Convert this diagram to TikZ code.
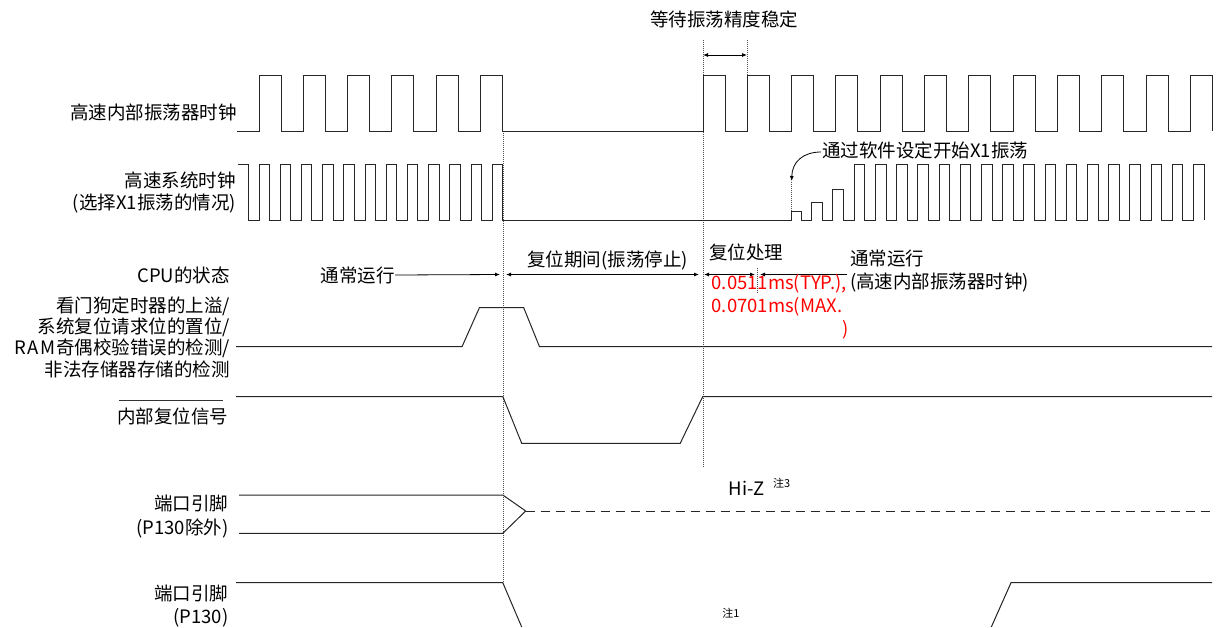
\documentclass[tikz,border=0pt]{standalone}
\usepackage{fontspec}
\setmainfont{Noto Sans CJK SC}
\usetikzlibrary{arrows.meta}
\begin{document}
\begin{tikzpicture}[x=1pt,y=-1pt,
  sig/.style={line width=1pt, draw=black!85, line join=miter},
  vdot/.style={line width=0.6pt, draw=black!70, dash pattern=on 1pt off 1pt},
  dimarr/.style={line width=0.8pt, {Latex[length=5pt,width=4pt]}-{Latex[length=5pt,width=4pt]}},
  onearr/.style={line width=0.8pt, -{Latex[length=5pt,width=4pt]}},
  lbl/.style={inner sep=0pt, font=\fontsize{18.5}{21.5}\selectfont},
  redtxt/.style={inner sep=0pt, text=red, font=\fontsize{18.5}{23}\selectfont},
  small/.style={inner sep=0pt, font=\fontsize{11}{13}\selectfont}
]
\useasboundingbox (0,0) rectangle (1220,627);

% ---------- labels on the left ----------
\node[lbl, anchor=east] (l1) at (237,112) {高速内部振荡器时钟};
\node[lbl, anchor=east, align=right] (l2) at (236,192.5) {高速系统时钟\\(选择X1振荡的情况)};
\node[lbl, anchor=east] (l3) at (230,275) {CPU的状态};
\node[lbl, anchor=east, align=right, font=\fontsize{18.5}{21.3}\selectfont] (l4) at (230,337)
  {看门狗定时器的上溢/\\系统复位请求位的置位/\\R\kern1.5pt A\kern1.5pt M\kern1pt 奇偶校验错误的检测/\\非法存储器存储的检测};
\node[lbl, anchor=east] (l5) at (228.5,416.7) {内部复位信号};
\draw[line width=0.8pt, black!80] (119,400.7) -- (223,400.7);
\node[lbl, anchor=east, align=right, font=\fontsize{18.5}{24}\selectfont] (l6) at (228.5,517) {端口引脚\\(P130除外)};
\node[lbl, anchor=east, align=right, font=\fontsize{18.5}{23}\selectfont] (l7) at (228.5,606.5) {端口引脚\\(P130)};

% ---------- top annotation ----------
\node[lbl] (wait) at (724,19) {等待振荡精度稳定};
\coordinate (wa) at (703,55);
\coordinate (wb) at (747,55);
\draw[dimarr] (wa) -- (wb);

% ---------- dotted verticals ----------
\draw[vdot] (503,131) -- (503,583);
\draw[vdot] (703,40) -- (703,467);
\draw[vdot] (747,40) -- (747,75);
\draw[vdot] (757.3,268) -- (757.3,293);
\draw[vdot] (791.7,182) -- (791.7,211);

% ---------- row 1: high-speed on-chip oscillator clock ----------
\draw[sig] (237,131)
  \foreach \k in {0,...,5}{ -- ({259+44.3*\k},131) -- ({259+44.3*\k},75) -- ({281+44.3*\k},75) -- ({281+44.3*\k},131)}
  -- (703,131)
  \foreach \k in {0,...,11}{ -- ({703+44.3*\k},131) -- ({703+44.3*\k},75) -- ({725+44.3*\k},75) -- ({725+44.3*\k},131)};

% ---------- row 2: high-speed system clock ----------
\draw[sig] (238,164) -- (248.3,164) -- (248.3,220)
  \foreach \k in {0,...,11}{ -- ({259+21.2*\k},220) -- ({259+21.2*\k},164) -- ({269.5+21.2*\k},164) -- ({269.5+21.2*\k},220)}
  -- (791.7,220) -- (791.7,211) -- (801.7,211) -- (801.7,220)
  -- (811.7,220) -- (811.7,202.3) -- (822.3,202.3) -- (822.3,220)
  -- (832.7,220) -- (832.7,189) -- (843.3,189) -- (843.3,220)
  \foreach \k in {0,...,16}{ -- ({854.3+21.2*\k},220) -- ({854.3+21.2*\k},164) -- ({864.9+21.2*\k},164) -- ({864.9+21.2*\k},220)};

\node[lbl, anchor=west] (x1note) at (822,150) {通过软件设定开始X1振荡};
\coordinate (x1tip) at (791.7,181);
\draw[onearr] ([xshift=-1pt,yshift=-2pt]x1note.west) .. controls (803,152) and (792,162) .. (x1tip);

% ---------- CPU state ----------
\node[lbl, anchor=east] (run1) at (395,275) {通常运行};
\coordinate (a1) at (500,274.5);
\draw[onearr] (run1.east) -- (a1);
\node[lbl] (rstperiod) at (607.5,260) {复位期间(振荡停止)};
\coordinate (b1) at (506,274.5);
\coordinate (b2) at (699,274.5);
\draw[dimarr] (b1) -- (b2);
\node[lbl] (rstproc) at (746,252) {复位处理};
\coordinate (c1) at (704,274.5);
\coordinate (c2) at (755,274.5);
\draw[dimarr] (c1) -- (c2);
\coordinate (d1) at (847,274.5);
\coordinate (d2) at (760,274.5);
\draw[onearr] (d1) -- (d2);
\node[lbl, anchor=west, align=left, font=\fontsize{18.5}{23}\selectfont] (run2) at (850,271.5) {通常运行\\(高速内部振荡器时钟)};
\node[redtxt, anchor=west, align=left] (timing) at (711.5,295) {0.0511ms(TYP.),\\0.0701ms(MAX.};
\node[redtxt, anchor=east] (timingend) at (849,330) {)};

% ---------- row 3: reset sources ----------
\draw[sig] (236,346.7) -- (462,346.7) -- (479.4,307.7) -- (523.7,307.7) -- (539.5,346.7) -- (1212,346.7);

% ---------- row 4: internal reset ----------
\draw[sig] (236,396.5) -- (502.8,396.5) -- (521.7,443.3) -- (680.2,443.3) -- (702.8,396.5) -- (1212,396.5);

% ---------- row 5: port pins except P130 ----------
\draw[sig] (239,495) -- (502.8,495) -- (525.7,511);
\draw[sig] (239,533.3) -- (502.8,533.3) -- (525.7,511);
\draw[sig, dash pattern=on 9pt off 6pt] (525.7,511) -- (1212,511);
\node[lbl] (hiz) at (746.5,488) {Hi-Z};
\node[small, anchor=west] (n3) at (773,483) {注3};

% ---------- row 6: P130 ----------
\draw[sig] (236,582.7) -- (502.8,582.7) -- (521.7,627);
\draw[sig] (991.3,627) -- (1011,582.7) -- (1212,582.7);
\node[small] (n1) at (731,613) {注1};
\end{tikzpicture}
\end{document}
